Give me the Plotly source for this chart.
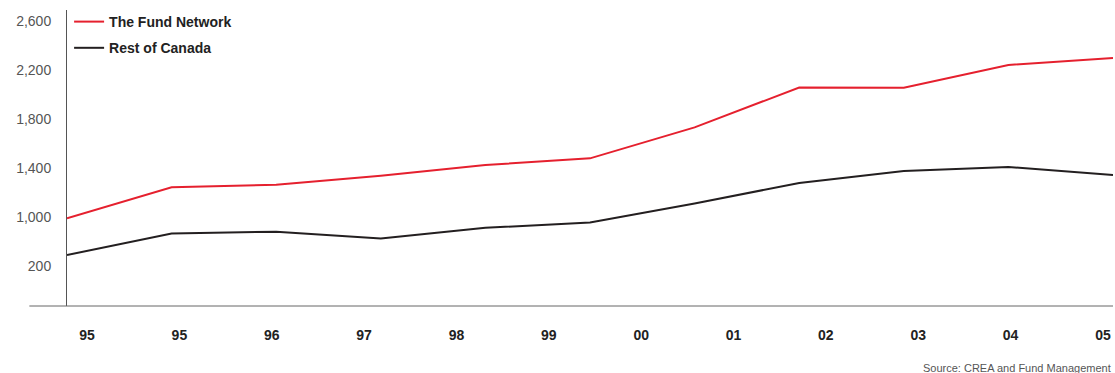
import plotly.graph_objects as go

# Data (index positions 0..10 of the plotted points)
point_index = list(range(11))
fund_network = [989, 1242, 1264, 1337, 1425, 1479, 1732, 2057, 2055, 2241, 2298]
rest_of_canada = [690, 865, 880, 825, 912, 955, 1110, 1278, 1376, 1408, 1343]

# Category labels along the bottom (12 evenly spaced labels)
x_labels = ["95", "95", "96", "97", "98", "99", "00", "01", "02", "03", "04", "05"]
label_index = list(range(len(x_labels)))

y_tickvals = [2600, 2200, 1800, 1400, 1000, 600]
y_ticktext = ["2,600", "2,200", "1,800", "1,400", "1,000", "200"]

RED = "#e5202e"
BLACK = "#231f20"
FONT = "Liberation Sans, Arial, Helvetica, sans-serif"

fig = go.Figure()
fig.add_trace(go.Scatter(
    x=point_index, y=fund_network, mode="lines", name="The Fund Network",
    line=dict(color=RED, width=2), legendgroup="a", cliponaxis=False,
))
fig.add_trace(go.Scatter(
    x=point_index, y=rest_of_canada, mode="lines", name="Rest of Canada",
    line=dict(color=BLACK, width=2), legendgroup="b", cliponaxis=False,
))
# invisible trace to host the label axis
fig.add_trace(go.Scatter(
    x=label_index, y=[None] * len(label_index), xaxis="x2", mode="lines",
    showlegend=False, hoverinfo="skip",
))

fig.update_layout(
    width=1115, height=373,
    margin=dict(l=67, r=2, t=10, b=67),
    paper_bgcolor="white", plot_bgcolor="white",
    font=dict(family=FONT, color="#555"),
    showlegend=True,
    legend=dict(
        x=0.002, y=1.0135, xanchor="left", yanchor="top",
        font=dict(family=FONT, size=14, color="#222", weight="bold"),
        bgcolor="rgba(0,0,0,0)", traceorder="grouped", tracegroupgap=5,
    ),
    xaxis=dict(
        range=[0, 10], showgrid=False, zeroline=False, showline=False,
        showticklabels=False, ticks="",
    ),
    xaxis2=dict(
        overlaying="x", anchor="y", side="bottom",
        range=[-0.217, 11.109], tickvals=label_index, ticktext=x_labels,
        showgrid=False, zeroline=False, showline=False,
        ticks="outside", ticklen=16, tickcolor="rgba(0,0,0,0)",
        tickfont=dict(family=FONT, size=14, color="#222", weight="bold"),
    ),
    yaxis=dict(
        range=[273.5, 2690], tickvals=y_tickvals, ticktext=y_ticktext,
        showgrid=False, zeroline=False, showline=True, linecolor="#555",
        linewidth=1, ticks="outside", ticklen=12, tickcolor="rgba(0,0,0,0)",
        tickfont=dict(family=FONT, size=14, color="#555"),
    ),
    shapes=[dict(
        type="line", xref="paper", yref="paper",
        x0=-0.036, x1=1.0, y0=0, y1=0,
        line=dict(color="#666", width=1),
    )],
    annotations=[dict(
        text="Source: CREA and Fund Management",
        xref="paper", yref="paper", x=1.0, y=-0.21,
        xanchor="right", yanchor="middle", showarrow=False,
        font=dict(family=FONT, size=11, color="#555"),
    )],
)

fig.write_html("out.html")
